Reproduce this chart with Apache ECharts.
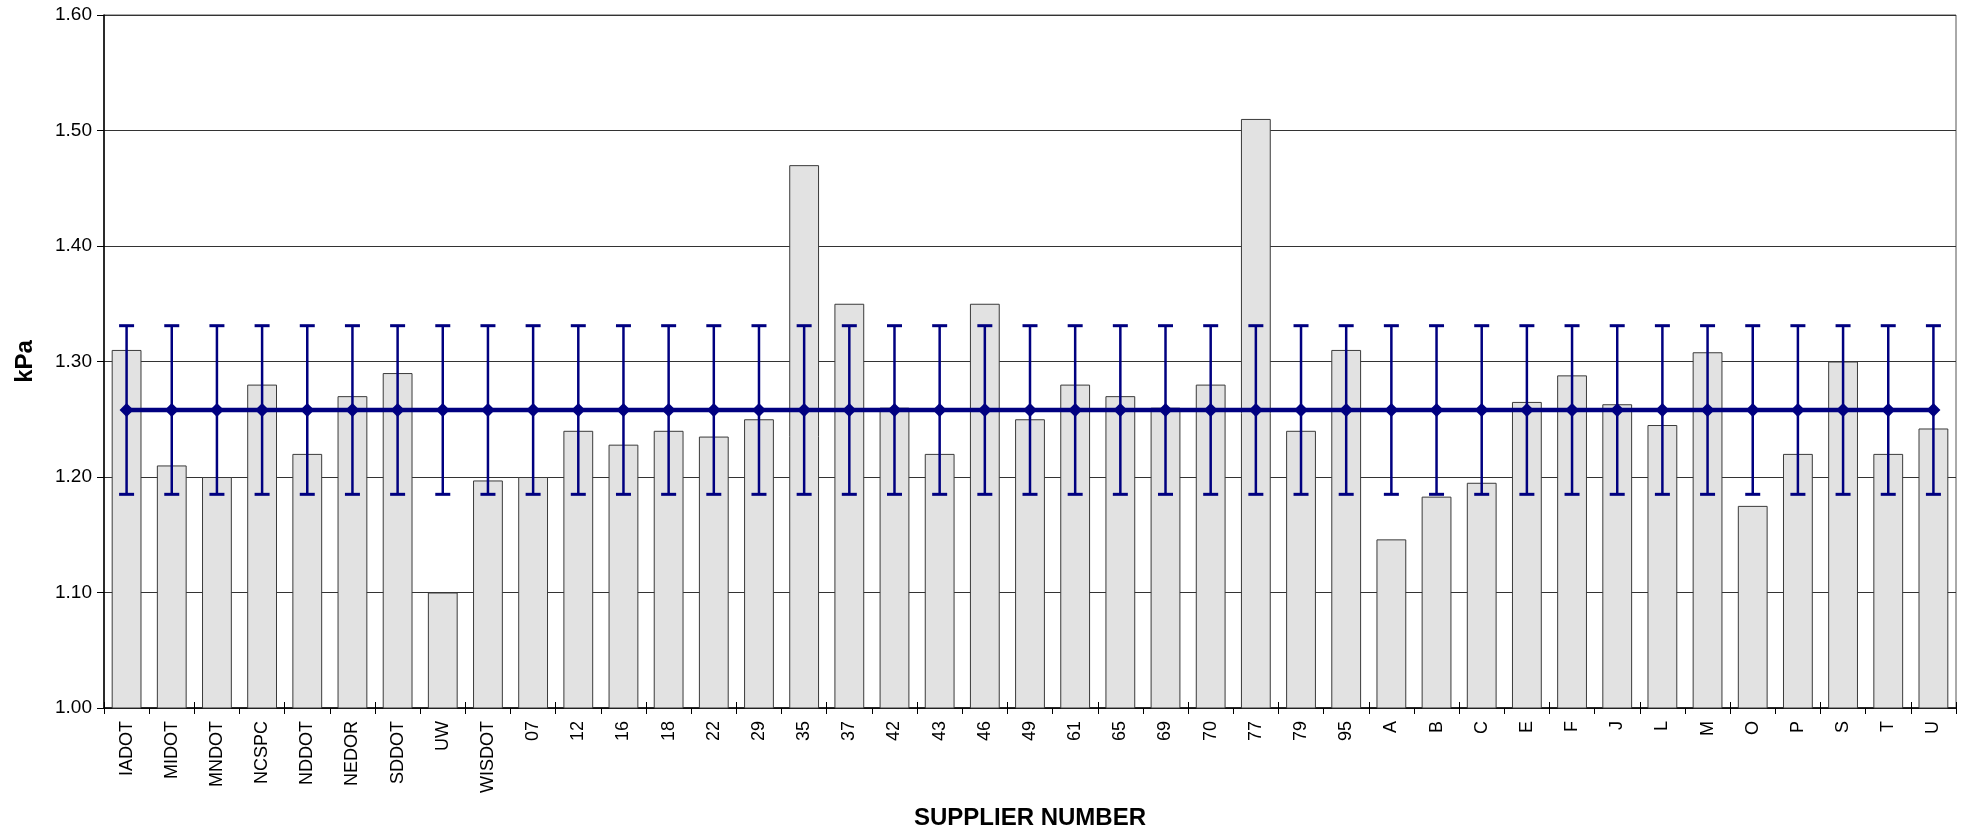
<!DOCTYPE html>
<html>
<head>
<meta charset="utf-8">
<script src="https://cdn.jsdelivr.net/npm/echarts@6/dist/echarts.min.js"></script>
<style>html,body{margin:0;padding:0;background:#fff;}#c{width:1968px;height:833px;}</style>
</head>
<body>
<div id="c"></div>
<script>
const categories = ['IADOT','MIDOT','MNDOT','NCSPC','NDDOT','NEDOR','SDDOT','UW','WISDOT','07','12','16','18','22','29','35','37','42','43','46','49','61','65','69','70','77','79','95','A','B','C','E','F','J','L','M','O','P','S','T','U'];
const supplierValues = [1.31,1.21,1.20,1.28,1.22,1.27,1.29,1.10,1.197,1.20,1.24,1.228,1.24,1.235,1.25,1.47,1.35,1.26,1.22,1.35,1.25,1.28,1.27,1.26,1.28,1.51,1.24,1.31,1.146,1.183,1.195,1.265,1.288,1.263,1.245,1.308,1.175,1.22,1.30,1.22,1.242];
const meanLine = [1.258,1.258,1.258,1.258,1.258,1.258,1.258,1.258,1.258,1.258,1.258,1.258,1.258,1.258,1.258,1.258,1.258,1.258,1.258,1.258,1.258,1.258,1.258,1.258,1.258,1.258,1.258,1.258,1.258,1.258,1.258,1.258,1.258,1.258,1.258,1.258,1.258,1.258,1.258,1.258,1.258];
const errorUpper = [1.331,1.331,1.331,1.331,1.331,1.331,1.331,1.331,1.331,1.331,1.331,1.331,1.331,1.331,1.331,1.331,1.331,1.331,1.331,1.331,1.331,1.331,1.331,1.331,1.331,1.331,1.331,1.331,1.331,1.331,1.331,1.331,1.331,1.331,1.331,1.331,1.331,1.331,1.331,1.331,1.331];
const errorLower = [1.185,1.185,1.185,1.185,1.185,1.185,1.185,1.185,1.185,1.185,1.185,1.185,1.185,1.185,1.185,1.185,1.185,1.185,1.185,1.185,1.185,1.185,1.185,1.185,1.185,1.185,1.185,1.185,1.185,1.185,1.185,1.185,1.185,1.185,1.185,1.185,1.185,1.185,1.185,1.185,1.185];

const FONT = "'Liberation Sans', Arial, sans-serif";
const NAVY = '#000080';
const chart = echarts.init(document.getElementById('c'), null, {renderer: 'canvas'});

const errData = categories.map((c, i) => [i, errorLower[i], errorUpper[i]]);

chart.setOption({
  animation: false,
  backgroundColor: '#fff',
  grid: {left: 104, right: 12, top: 15, bottom: 125, show: true, borderColor: '#555', borderWidth: 1, outerBoundsMode: 'none', containLabel: false},
  xAxis: [{
    type: 'category',
    data: categories,
    name: 'SUPPLIER NUMBER',
    nameLocation: 'middle',
    nameGap: 98,
    nameTextStyle: {fontFamily: FONT, fontSize: 24, fontWeight: 'bold', color: '#000'},
    axisLine: {lineStyle: {color: '#000', width: 1.5}},
    axisTick: {show: true, alignWithLabel: false, length: 6, lineStyle: {color: '#000'}},
    axisLabel: {rotate: 90, fontFamily: FONT, fontSize: 18, color: '#000', margin: 13, interval: 0},
    splitLine: {show: false}
  }, {
    type: 'category',
    data: categories,
    position: 'bottom',
    axisLine: {show: false},
    axisTick: {show: true, inside: true, length: 6, lineStyle: {color: '#000'}},
    axisLabel: {show: false},
    splitLine: {show: false}
  }],
  yAxis: {
    type: 'value',
    min: 1.0,
    max: 1.6,
    interval: 0.1,
    name: 'kPa',
    nameLocation: 'middle',
    nameGap: 67,
    nameRotate: 90,
    nameTextStyle: {fontFamily: FONT, fontSize: 24, fontWeight: 'bold', color: '#000'},
    axisLine: {show: true, lineStyle: {color: '#000', width: 1.5}},
    axisTick: {show: true, length: 7, lineStyle: {color: '#000'}},
    axisLabel: {fontFamily: FONT, fontSize: 19, color: '#000', margin: 12, formatter: v => v.toFixed(2)},
    splitLine: {show: true, lineStyle: {color: '#333', width: 1}}
  },
  series: [{
    type: 'bar',
    data: supplierValues,
    barCategoryGap: '34%',
    itemStyle: {color: '#e2e2e2', borderColor: '#3a3a3a', borderWidth: 1},
    z: 2
  }, {
    type: 'custom',
    data: errData,
    z: 3,
    renderItem: function (params, api) {
      const i = api.value(0);
      const lo = api.coord([i, api.value(1)]);
      const hi = api.coord([i, api.value(2)]);
      const hw = 7.5;
      return {
        type: 'group',
        children: [
          {type: 'line', shape: {x1: hi[0], y1: hi[1], x2: lo[0], y2: lo[1]}, style: {stroke: NAVY, lineWidth: 2.5}},
          {type: 'line', shape: {x1: hi[0] - hw, y1: hi[1], x2: hi[0] + hw, y2: hi[1]}, style: {stroke: NAVY, lineWidth: 3}},
          {type: 'line', shape: {x1: lo[0] - hw, y1: lo[1], x2: lo[0] + hw, y2: lo[1]}, style: {stroke: NAVY, lineWidth: 3}}
        ]
      };
    }
  }, {
    type: 'line',
    data: meanLine,
    z: 4,
    symbol: 'diamond',
    symbolSize: [14, 14],
    lineStyle: {color: NAVY, width: 4.5},
    itemStyle: {color: NAVY}
  }]
});
</script>
</body>
</html>
